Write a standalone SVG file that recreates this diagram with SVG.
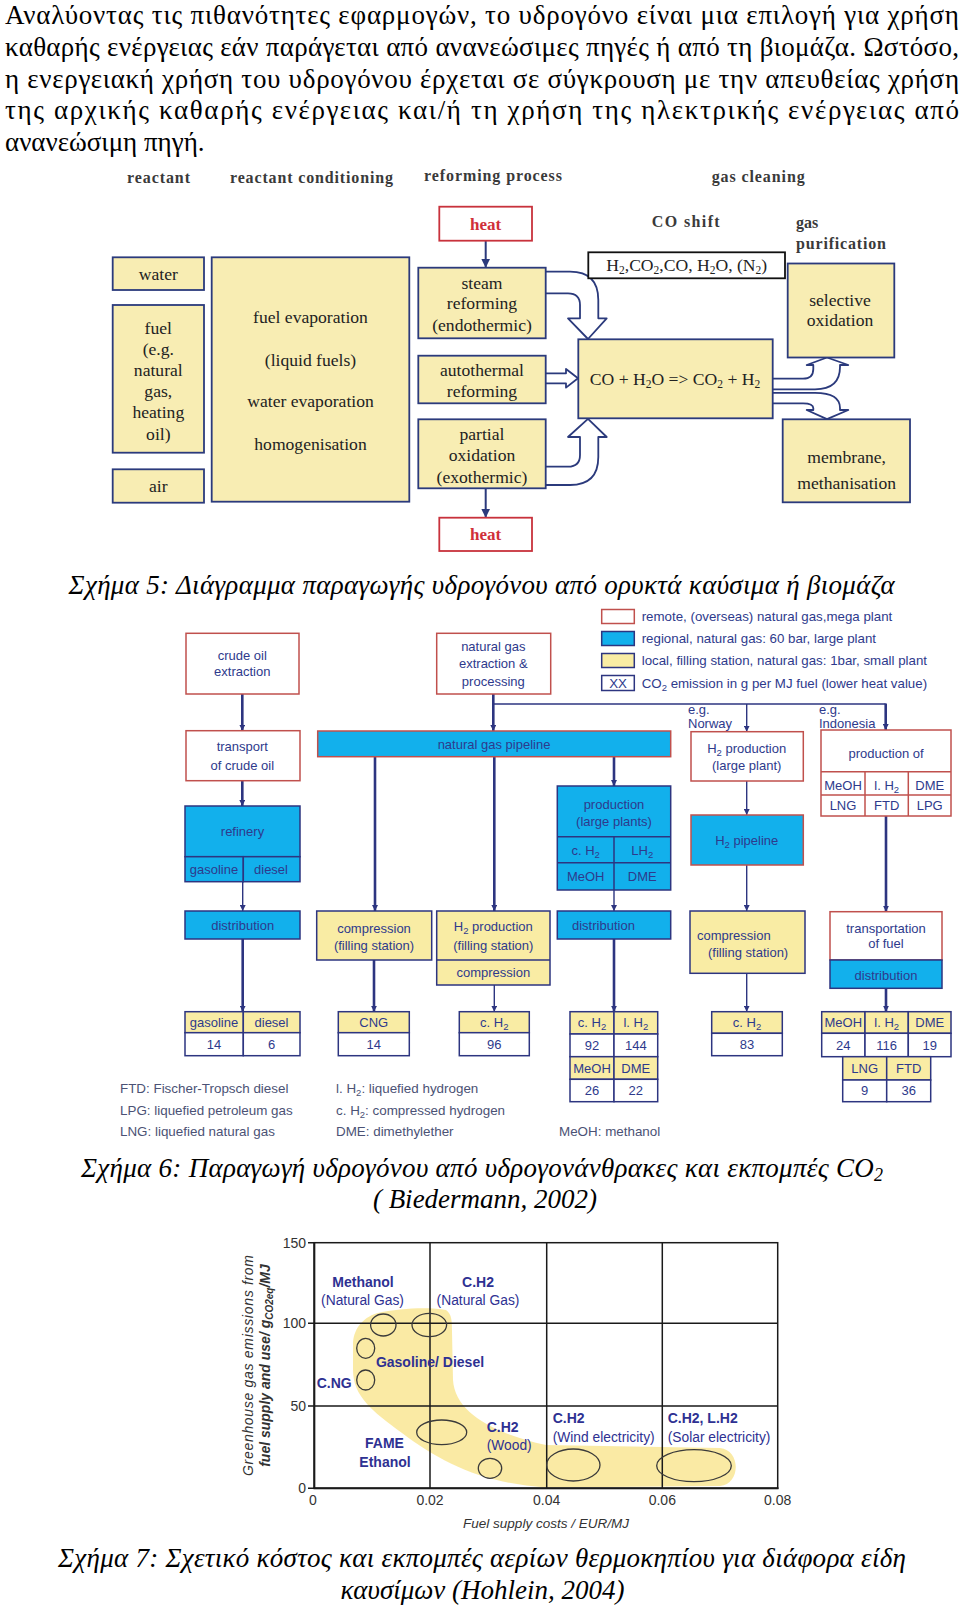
<svg xmlns="http://www.w3.org/2000/svg" width="960" height="1606" viewBox="0 0 960 1606">
<defs>
<style>
.p{font-family:"Liberation Serif","Times New Roman",serif;font-size:27px;fill:#000}
.cap{font-family:"Liberation Serif","Times New Roman",serif;font-style:italic;font-size:27px;fill:#000}
.h5{font-family:"Liberation Serif","Times New Roman",serif;font-weight:bold;font-size:16px;fill:#3a3a3a}
.t5{font-family:"Liberation Serif","Times New Roman",serif;font-size:17.6px;fill:#222;text-anchor:middle}
.b5{fill:#f8edb3;stroke:#2b3a7c;stroke-width:1.8}
.heat{fill:#fff;stroke:#c8323c;stroke-width:1.8}
.ht{font-family:"Liberation Serif","Times New Roman",serif;font-weight:bold;font-size:17px;fill:#d0303a;text-anchor:middle}
.ha{fill:#fff;stroke:#2b3a7c;stroke-width:1.8;stroke-linejoin:round}
.s6{font-family:"Liberation Sans",Arial,sans-serif;font-size:13px;fill:#2e3a8c}
.lg{font-family:"Liberation Sans",Arial,sans-serif;font-size:13.3px;fill:#2e3a8c}
.c{text-anchor:middle}
.fn{font-family:"Liberation Sans",Arial,sans-serif;font-size:13.4px;fill:#4b5275}
.red{fill:#fff;stroke:#c0504d;stroke-width:1.5}
.blue{fill:#12b0ec;stroke:#2d3580;stroke-width:1.5}
.bluer{fill:#12b0ec;stroke:#c0504d;stroke-width:1.5}
.yel{fill:#f9eca4;stroke:#2d3580;stroke-width:1.5}
.wht{fill:#fff;stroke:#2d3580;stroke-width:1.5}
.thk{stroke:#2d3580;stroke-width:2.6;fill:none}
.thn{stroke:#2d3580;stroke-width:1.4;fill:none}
.g7{stroke:#1a1a1a;stroke-width:1.5;fill:none}
.e7{fill:none;stroke:#3a3a3a;stroke-width:1.3}
.l7{font-family:"Liberation Sans",Arial,sans-serif;font-size:13.8px;fill:#2e3192}
.l7b{font-family:"Liberation Sans",Arial,sans-serif;font-size:14px;font-weight:bold;fill:#2e3192}
.tk{font-family:"Liberation Sans",Arial,sans-serif;font-size:14px;fill:#333}
</style>
<marker id="ar" viewBox="0 0 8 8" refX="8" refY="4" markerWidth="6" markerHeight="6" orient="auto" markerUnits="userSpaceOnUse"><path d="M0,0 L8,4 L0,8 z" fill="#2d3580"/></marker>
<marker id="ar5" viewBox="0 0 8 8" refX="8" refY="4" markerWidth="9" markerHeight="9" orient="auto" markerUnits="userSpaceOnUse"><path d="M0,0 L8,4 L0,8 z" fill="#2b3a7c"/></marker>
</defs>
<rect width="960" height="1606" fill="#fff"/>

<!-- paragraph -->
<g id="paragraph">
<text class="p" x="5" y="24" textLength="954" lengthAdjust="spacing">Αναλύοντας τις πιθανότητες εφαρμογών, το υδρογόνο είναι μια επιλογή για χρήση</text>
<text class="p" x="5" y="55.5" textLength="954" lengthAdjust="spacing">καθαρής ενέργειας εάν παράγεται από ανανεώσιμες πηγές ή από τη βιομάζα. Ωστόσο,</text>
<text class="p" x="5" y="88" textLength="954" lengthAdjust="spacing">η ενεργειακή χρήση του υδρογόνου έρχεται σε σύγκρουση με την απευθείας χρήση</text>
<text class="p" x="5" y="119" textLength="954" lengthAdjust="spacing">της αρχικής καθαρής ενέργειας και/ή τη χρήση της ηλεκτρικής ενέργειας από</text>
<text class="p" x="5" y="150.5">ανανεώσιμη πηγή.</text>
</g>

<!-- FIGURE 5 -->
<g id="fig5-headers">
<text class="h5" x="127" y="182.5" textLength="63">reactant</text>
<text class="h5" x="230" y="182.5" textLength="163">reactant conditioning</text>
<text class="h5" x="424" y="181" textLength="138">reforming process</text>
<text class="h5" x="711.7" y="182" textLength="93">gas cleaning</text>
<text class="h5" x="651.7" y="227" textLength="68">CO  shift</text>
<text class="h5" x="796" y="227.5">gas</text>
<text class="h5" x="796" y="249" textLength="90">purification</text>
</g>

<g id="f5-connectors">
<line x1="485.7" y1="240.7" x2="485.7" y2="267.7" stroke="#2b3a7c" stroke-width="2" marker-end="url(#ar5)"/>
<line x1="485.7" y1="488.3" x2="485.7" y2="517.7" stroke="#2b3a7c" stroke-width="2" marker-end="url(#ar5)"/>
<path class="ha" d="M545.7,271.7 L570,271.7 Q598.3,271.7 598.3,300 L598.3,318.3 L606.7,318.3 L588,339 L568,318.3 L580,318.3 L580,305 Q580,293.3 568,293.3 L545.7,293.3"/>
<path class="ha" d="M545.7,373.3 L566,373.3 L566,369 L578,378.3 L566,387.6 L566,383.3 L545.7,383.3"/>
<path class="ha" d="M545.7,485 L570,485 Q598.3,485 598.3,457 L598.3,437 L606.7,437 L588,418.8 L568,437 L580,437 L580,455 Q580,466.7 568,466.7 L545.7,466.7"/>
<path class="ha" d="M772.7,378.7 H803 Q813.3,378.7 813.3,369 V365 H806.7 L827,357.5 L848.3,365 H840 V367 Q840,389.3 815,389.3 H772.7"/>
<path class="ha" d="M772.7,403.3 H803 Q813.3,403.3 813.3,408 V410 H806.7 L827,419.1 L848.3,410 H840 V408 Q840,392.8 815,392.8 H772.7"/>
</g>

<g id="f5-water"><rect class="b5" x="112.7" y="257.3" width="91.3" height="32.7"/><text class="t5" x="158.3" y="279.5">water</text></g>
<g id="f5-fuel"><rect class="b5" x="112.7" y="305" width="91.3" height="147.7"/>
<text class="t5" x="158.3" y="333.5">fuel</text><text class="t5" x="158.3" y="354.5">(e.g.</text><text class="t5" x="158.3" y="375.5">natural</text><text class="t5" x="158.3" y="397">gas,</text><text class="t5" x="158.3" y="417.5">heating</text><text class="t5" x="158.3" y="439.5">oil)</text></g>
<g id="f5-air"><rect class="b5" x="112.7" y="469.3" width="91.3" height="33.4"/><text class="t5" x="158.3" y="491.5">air</text></g>
<g id="f5-conditioning"><rect class="b5" x="211.7" y="257.3" width="197.6" height="244.4"/>
<text class="t5" x="310.5" y="322.5">fuel evaporation</text><text class="t5" x="310.5" y="366">(liquid fuels)</text><text class="t5" x="310.5" y="407">water evaporation</text><text class="t5" x="310.5" y="449.5">homogenisation</text></g>
<g id="f5-heat-top"><rect class="heat" x="439.3" y="206.7" width="92.7" height="34"/><text class="ht" x="485.7" y="229.5">heat</text></g>
<g id="f5-steam"><rect class="b5" x="418.3" y="267.7" width="127.4" height="70.6"/>
<text class="t5" x="482" y="288.5">steam</text><text class="t5" x="482" y="309">reforming</text><text class="t5" x="482" y="331">(endothermic)</text></g>
<g id="f5-auto"><rect class="b5" x="418.3" y="355.7" width="127.4" height="47.6"/>
<text class="t5" x="482" y="376">autothermal</text><text class="t5" x="482" y="396.5">reforming</text></g>
<g id="f5-partial"><rect class="b5" x="418.3" y="419.3" width="127.4" height="69"/>
<text class="t5" x="482" y="440">partial</text><text class="t5" x="482" y="460.5">oxidation</text><text class="t5" x="482" y="483">(exothermic)</text></g>
<g id="f5-heat-bottom"><rect class="heat" x="439.3" y="517.7" width="92.7" height="33.3"/><text class="ht" x="485.7" y="540">heat</text></g>
<g id="f5-gases"><rect x="588.3" y="252.3" width="196.7" height="26" fill="#fff" stroke="#111" stroke-width="1.8"/>
<text class="t5" x="686.7" y="271">H<tspan font-size="11.5" dy="3">2</tspan><tspan dy="-3">,CO</tspan><tspan font-size="11.5" dy="3">2</tspan><tspan dy="-3">,CO, H</tspan><tspan font-size="11.5" dy="3">2</tspan><tspan dy="-3">O, (N</tspan><tspan font-size="11.5" dy="3">2</tspan><tspan dy="-3">)</tspan></text></g>
<g id="f5-coshift"><rect class="b5" x="578.3" y="339.3" width="194.4" height="79"/>
<text class="t5" x="675" y="384.5">CO + H<tspan font-size="11.5" dy="3">2</tspan><tspan dy="-3">O =&gt; CO</tspan><tspan font-size="11.5" dy="3">2</tspan><tspan dy="-3"> + H</tspan><tspan font-size="11.5" dy="3">2</tspan></text></g>
<g id="f5-selective"><rect class="b5" x="787.7" y="263.5" width="106.6" height="94"/>
<text class="t5" x="840" y="306">selective</text><text class="t5" x="840" y="326">oxidation</text></g>
<g id="f5-membrane"><rect class="b5" x="782.7" y="419.3" width="127.3" height="83"/>
<text class="t5" x="846.7" y="462.5">membrane,</text><text class="t5" x="846.7" y="489">methanisation</text></g>

<text class="cap" x="68.6" y="594" textLength="826" lengthAdjust="spacing">Σχήμα 5: Διάγραμμα παραγωγής υδρογόνου από ορυκτά καύσιμα ή βιομάζα</text>

<!-- FIGURE 6 -->
<g id="f6-legend">
<rect class="red" x="601.7" y="609.5" width="32.6" height="14"/>
<text class="lg" x="641.7" y="621">remote, (overseas) natural gas,mega plant</text>
<rect class="blue" x="601.7" y="631.5" width="32.6" height="14"/>
<text class="lg" x="641.7" y="643">regional, natural gas: 60 bar, large plant</text>
<rect class="yel" x="601.7" y="653.5" width="32.6" height="14"/>
<text class="lg" x="641.7" y="665">local, filling station, natural gas: 1bar, small plant</text>
<rect class="wht" x="601.7" y="675.5" width="32.6" height="15"/>
<text class="lg c" x="618" y="687.5">XX</text>
<text class="lg" x="641.7" y="687.5">CO<tspan font-size="9.5" dy="3">2</tspan><tspan dy="-3"> emission in g per MJ fuel (lower heat value)</tspan></text>
</g>

<g id="f6-connectors">
<line class="thk" x1="242.3" y1="694" x2="242.3" y2="730.7" marker-end="url(#ar)"/>
<line class="thk" x1="242.3" y1="780.7" x2="242.3" y2="806" marker-end="url(#ar)"/>
<line class="thn" x1="242.7" y1="881.7" x2="242.7" y2="911" marker-end="url(#ar)"/>
<line class="thk" x1="242.7" y1="939" x2="242.7" y2="1011.7" marker-end="url(#ar)"/>
<line class="thk" x1="493.3" y1="694" x2="493.3" y2="731" marker-end="url(#ar)"/>
<path class="thn" d="M493.3,704 H885.7"/>
<line class="thn" x1="746.7" y1="704" x2="746.7" y2="731.7" marker-end="url(#ar)"/>
<line class="thk" x1="885.7" y1="703.5" x2="885.7" y2="730" marker-end="url(#ar)"/>
<line class="thk" x1="375" y1="756.7" x2="375" y2="911" marker-end="url(#ar)"/>
<line class="thk" x1="494.3" y1="756.7" x2="494.3" y2="911" marker-end="url(#ar)"/>
<line class="thk" x1="614" y1="756.7" x2="614" y2="786" marker-end="url(#ar)"/>
<line class="thk" x1="374" y1="960" x2="374" y2="1011.7" marker-end="url(#ar)"/>
<line class="thn" x1="494.3" y1="985" x2="494.3" y2="1011.7" marker-end="url(#ar)"/>
<line class="thn" x1="614" y1="890" x2="614" y2="911" marker-end="url(#ar)"/>
<line class="thk" x1="614" y1="939" x2="614" y2="1011.7" marker-end="url(#ar)"/>
<line class="thn" x1="746.7" y1="781" x2="746.7" y2="815" marker-end="url(#ar)"/>
<line class="thn" x1="746.7" y1="865" x2="746.7" y2="911" marker-end="url(#ar)"/>
<line class="thn" x1="746.7" y1="973.3" x2="746.7" y2="1011.7" marker-end="url(#ar)"/>
<line class="thk" x1="886" y1="816" x2="886" y2="911.7" marker-end="url(#ar)"/>
<line class="thk" x1="886" y1="988.3" x2="886" y2="1011.7" marker-end="url(#ar)"/>
</g>

<g id="f6-crude"><rect class="red" x="186" y="633.3" width="113" height="60.7"/>
<text class="s6 c" x="242.3" y="659.5">crude oil</text><text class="s6 c" x="242.3" y="676">extraction</text></g>
<g id="f6-transport"><rect class="red" x="186" y="730.7" width="114" height="50"/>
<text class="s6 c" x="242.3" y="751">transport</text><text class="s6 c" x="242.3" y="769.5">of crude oil</text></g>
<g id="f6-refinery"><rect class="blue" x="185" y="806" width="115" height="50.7"/><rect class="blue" x="185" y="856.7" width="58.3" height="25"/><rect class="blue" x="243.3" y="856.7" width="56.7" height="25"/>
<text class="s6 c" x="242.5" y="836">refinery</text><text class="s6 c" x="214" y="873.5">gasoline</text><text class="s6 c" x="271" y="873.5">diesel</text></g>
<g id="f6-ng-extraction"><rect class="red" x="436.7" y="633.3" width="114" height="60.7"/>
<text class="s6 c" x="493.3" y="651">natural gas</text><text class="s6 c" x="493.3" y="668">extraction &amp;</text><text class="s6 c" x="493.3" y="686">processing</text></g>
<g id="f6-pipeline"><rect class="bluer" x="317.7" y="731" width="353" height="25.7"/>
<text class="s6 c" x="494" y="748.5">natural gas pipeline</text></g>
<g id="f6-eg"><text class="s6" x="688" y="714">e.g.</text><text class="s6" x="688" y="727.5">Norway</text>
<text class="s6" x="819" y="714">e.g.</text><text class="s6" x="819" y="727.5">Indonesia</text></g>
<g id="f6-h2-large"><rect class="red" x="691" y="731.7" width="112.3" height="49.3"/>
<text class="s6 c" x="746.7" y="753">H<tspan font-size="9.5" dy="3">2</tspan><tspan dy="-3"> production</tspan></text><text class="s6 c" x="746.7" y="769.5">(large plant)</text></g>
<g id="f6-h2-pipeline"><rect class="bluer" x="691" y="815" width="112.3" height="50"/>
<text class="s6 c" x="746.7" y="844.5">H<tspan font-size="9.5" dy="3">2</tspan><tspan dy="-3"> pipeline</tspan></text></g>
<g id="f6-production-of"><rect class="red" x="821" y="730" width="130" height="86"/>
<line x1="821" y1="771.7" x2="951" y2="771.7" stroke="#c0504d" stroke-width="1.5"/><line x1="821" y1="795" x2="951" y2="795" stroke="#c0504d" stroke-width="1.5"/>
<line x1="865" y1="771.7" x2="865" y2="816" stroke="#c0504d" stroke-width="1.5"/><line x1="908.3" y1="771.7" x2="908.3" y2="816" stroke="#c0504d" stroke-width="1.5"/>
<text class="s6 c" x="886" y="758">production of</text>
<text class="s6 c" x="843" y="789.5">MeOH</text><text class="s6 c" x="886.7" y="789.5">l. H<tspan font-size="9.5" dy="3">2</tspan></text><text class="s6 c" x="929.7" y="789.5">DME</text>
<text class="s6 c" x="843" y="809.5">LNG</text><text class="s6 c" x="886.7" y="809.5">FTD</text><text class="s6 c" x="929.7" y="809.5">LPG</text></g>
<g id="f6-production-large"><rect class="blue" x="557.3" y="786" width="113.4" height="104"/>
<line x1="557.3" y1="836.7" x2="670.7" y2="836.7" stroke="#2d3580" stroke-width="1.5"/><line x1="557.3" y1="862.7" x2="670.7" y2="862.7" stroke="#2d3580" stroke-width="1.5"/><line x1="614" y1="836.7" x2="614" y2="890" stroke="#2d3580" stroke-width="1.5"/>
<text class="s6 c" x="614" y="809">production</text><text class="s6 c" x="614" y="826">(large plants)</text>
<text class="s6 c" x="585.7" y="855">c. H<tspan font-size="9.5" dy="3">2</tspan></text><text class="s6 c" x="642.3" y="855">LH<tspan font-size="9.5" dy="3">2</tspan></text>
<text class="s6 c" x="585.7" y="881">MeOH</text><text class="s6 c" x="642.3" y="881">DME</text></g>
<g id="f6-distribution-1"><rect class="blue" x="185" y="911" width="115" height="28"/><text class="s6 c" x="242.7" y="929.5">distribution</text></g>
<g id="f6-compression-cng"><rect class="yel" x="316.7" y="911" width="115" height="49"/>
<text class="s6 c" x="374" y="933">compression</text><text class="s6 c" x="374" y="949.5">(filling station)</text></g>
<g id="f6-h2-filling"><rect class="yel" x="436.7" y="911" width="113.3" height="74"/><line x1="436.7" y1="960" x2="550" y2="960" stroke="#2d3580" stroke-width="1.5"/>
<text class="s6 c" x="493.3" y="930.5">H<tspan font-size="9.5" dy="3">2</tspan><tspan dy="-3"> production</tspan></text><text class="s6 c" x="493.3" y="949.5">(filling station)</text><text class="s6 c" x="493.3" y="977">compression</text></g>
<g id="f6-distribution-2"><rect class="blue" x="557.3" y="911" width="113.4" height="28"/><text class="s6" x="572" y="929.5">distribution</text></g>
<g id="f6-compression-h2"><rect class="yel" x="690" y="911" width="115" height="62.3"/>
<text class="s6" x="697" y="939.5">compression</text><text class="s6" x="708" y="957">(filling station)</text></g>
<g id="f6-transportation"><rect class="red" x="830" y="911.7" width="112" height="48.3"/><rect class="blue" x="830" y="960" width="112" height="28.3"/>
<text class="s6 c" x="886" y="933">transportation</text><text class="s6 c" x="886" y="948">of fuel</text><text class="s6 c" x="886" y="979.5">distribution</text></g>

<g id="f6-table-oil">
<rect class="yel" x="185" y="1011.7" width="58.3" height="21"/><rect class="yel" x="243.3" y="1011.7" width="56.7" height="21"/>
<rect class="wht" x="185" y="1032.7" width="58.3" height="23"/><rect class="wht" x="243.3" y="1032.7" width="56.7" height="23"/>
<text class="s6 c" x="214" y="1026.5">gasoline</text><text class="s6 c" x="271.5" y="1026.5">diesel</text>
<text class="s6 c" x="214" y="1049">14</text><text class="s6 c" x="271.5" y="1049">6</text></g>
<g id="f6-table-cng">
<rect class="yel" x="338.3" y="1011.7" width="71" height="21"/><rect class="wht" x="338.3" y="1032.7" width="71" height="23"/>
<text class="s6 c" x="373.8" y="1026.5">CNG</text><text class="s6 c" x="373.8" y="1049">14</text></g>
<g id="f6-table-ch2-96">
<rect class="yel" x="459.3" y="1011.7" width="70" height="21"/><rect class="wht" x="459.3" y="1032.7" width="70" height="23"/>
<text class="s6 c" x="494.3" y="1026.5">c. H<tspan font-size="9.5" dy="3">2</tspan></text><text class="s6 c" x="494.3" y="1049">96</text></g>
<g id="f6-table-mid">
<rect class="yel" x="570" y="1011.7" width="44" height="22.3"/><rect class="yel" x="614" y="1011.7" width="43.7" height="22.3"/>
<rect class="wht" x="570" y="1034" width="44" height="22.7"/><rect class="wht" x="614" y="1034" width="43.7" height="22.7"/>
<rect class="yel" x="570" y="1056.7" width="44" height="22.6"/><rect class="yel" x="614" y="1056.7" width="43.7" height="22.6"/>
<rect class="wht" x="570" y="1079.3" width="44" height="22.4"/><rect class="wht" x="614" y="1079.3" width="43.7" height="22.4"/>
<text class="s6 c" x="592" y="1027">c. H<tspan font-size="9.5" dy="3">2</tspan></text><text class="s6 c" x="635.8" y="1027">l. H<tspan font-size="9.5" dy="3">2</tspan></text>
<text class="s6 c" x="592" y="1049.5">92</text><text class="s6 c" x="635.8" y="1049.5">144</text>
<text class="s6 c" x="592" y="1072.5">MeOH</text><text class="s6 c" x="635.8" y="1072.5">DME</text>
<text class="s6 c" x="592" y="1095">26</text><text class="s6 c" x="635.8" y="1095">22</text></g>
<g id="f6-table-ch2-83">
<rect class="yel" x="711.7" y="1011.7" width="70.6" height="21.6"/><rect class="wht" x="711.7" y="1033.3" width="70.6" height="22.4"/>
<text class="s6 c" x="747" y="1026.5">c. H<tspan font-size="9.5" dy="3">2</tspan></text><text class="s6 c" x="747" y="1049">83</text></g>
<g id="f6-table-right">
<rect class="yel" x="821.7" y="1011.7" width="43.3" height="21.6"/><rect class="yel" x="865" y="1011.7" width="43.3" height="21.6"/><rect class="yel" x="908.3" y="1011.7" width="42.7" height="21.6"/>
<rect class="wht" x="821.7" y="1033.3" width="43.3" height="23.4"/><rect class="wht" x="865" y="1033.3" width="43.3" height="23.4"/><rect class="wht" x="908.3" y="1033.3" width="42.7" height="23.4"/>
<rect class="yel" x="842.7" y="1056.7" width="44" height="23.3"/><rect class="yel" x="886.7" y="1056.7" width="44" height="23.3"/>
<rect class="wht" x="842.7" y="1080" width="44" height="21.7"/><rect class="wht" x="886.7" y="1080" width="44" height="21.7"/>
<text class="s6 c" x="843.3" y="1026.5">MeOH</text><text class="s6 c" x="886.7" y="1026.5">l. H<tspan font-size="9.5" dy="3">2</tspan></text><text class="s6 c" x="929.7" y="1026.5">DME</text>
<text class="s6 c" x="843.3" y="1049.5">24</text><text class="s6 c" x="886.7" y="1049.5">116</text><text class="s6 c" x="929.7" y="1049.5">19</text>
<text class="s6 c" x="864.7" y="1073">LNG</text><text class="s6 c" x="908.7" y="1073">FTD</text>
<text class="s6 c" x="864.7" y="1095">9</text><text class="s6 c" x="908.7" y="1095">36</text></g>

<g id="f6-footnotes">
<text class="fn" x="120" y="1093">FTD: Fischer-Tropsch diesel</text>
<text class="fn" x="120" y="1114.5">LPG: liquefied petroleum gas</text>
<text class="fn" x="120" y="1136">LNG: liquefied natural gas</text>
<text class="fn" x="336" y="1093">l. H<tspan font-size="9.5" dy="3">2</tspan><tspan dy="-3">: liquefied hydrogen</tspan></text>
<text class="fn" x="336" y="1114.5">c. H<tspan font-size="9.5" dy="3">2</tspan><tspan dy="-3">: compressed hydrogen</tspan></text>
<text class="fn" x="336" y="1136">DME: dimethylether</text>
<text class="fn" x="559" y="1136">MeOH: methanol</text>
</g>

<text class="cap" x="81" y="1177" textLength="802" lengthAdjust="spacing">Σχήμα 6: Παραγωγή υδρογόνου από υδρογονάνθρακες και εκπομπές CO<tspan font-size="18" dy="4">2</tspan></text>
<text class="cap" x="485" y="1207.5" text-anchor="middle">( Biedermann, 2002)</text>

<!-- FIGURE 7 -->
<g id="f7-chart">
<path d="M376.7,1313.3 C400,1308 430,1307 446,1310 C452,1314 452,1322 452,1332 L453,1380 C455,1412 492,1433 546,1445 L720,1448 C741,1450 741,1484 720,1486 L546,1487.5 C482,1483 442,1463 402,1433 C372,1411 353,1396 353,1370 L353,1345 C353,1330 362,1318 376.7,1313.3 Z" fill="#fae89c" opacity="0.92"/>
<rect class="g7" x="314.3" y="1242.7" width="463.4" height="245.6"/>
<path class="g7" d="M308,1242.7 H314.3 M308,1323.3 H777.7 M308,1406 H777.7 M308,1488.3 H314.3 M430,1242.7 V1488.3 M546.7,1242.7 V1488.3 M662.3,1242.7 V1488.3"/>
<line x1="314.3" y1="1242" x2="314.3" y2="1489" stroke="#1a1a1a" stroke-width="2"/>
<line x1="313.5" y1="1488.3" x2="778.5" y2="1488.3" stroke="#1a1a1a" stroke-width="2"/>
<ellipse class="e7" cx="383.3" cy="1325" rx="12.7" ry="11"/>
<ellipse class="e7" cx="429.3" cy="1325" rx="17.3" ry="11.7"/>
<ellipse class="e7" cx="365.7" cy="1348.3" rx="9" ry="10"/>
<ellipse class="e7" cx="365.7" cy="1380" rx="9" ry="10"/>
<ellipse class="e7" cx="441.7" cy="1432.3" rx="25" ry="12.3"/>
<ellipse class="e7" cx="490" cy="1468.3" rx="11.7" ry="10"/>
<ellipse class="e7" cx="573.3" cy="1465" rx="26.7" ry="16"/>
<ellipse class="e7" cx="694" cy="1465.7" rx="37.3" ry="16"/>
</g>
<g id="f7-labels">
<text class="l7b" x="363" y="1286.5" text-anchor="middle">Methanol</text>
<text class="l7" x="362.5" y="1305" text-anchor="middle">(Natural Gas)</text>
<text class="l7b" x="478" y="1286.5" text-anchor="middle">C.H2</text>
<text class="l7" x="478" y="1305" text-anchor="middle">(Natural Gas)</text>
<text class="l7b" x="430" y="1366.5" text-anchor="middle">Gasoline/ Diesel</text>
<text class="l7b" x="334.2" y="1388" text-anchor="middle">C.NG</text>
<text class="l7b" x="384.5" y="1447.5" text-anchor="middle">FAME</text>
<text class="l7b" x="385" y="1466.5" text-anchor="middle">Ethanol</text>
<text class="l7b" x="486.7" y="1431.5">C.H2</text>
<text class="l7" x="486.7" y="1450">(Wood)</text>
<text class="l7b" x="552.7" y="1423">C.H2</text>
<text class="l7" x="552.7" y="1441.5">(Wind electricity)</text>
<text class="l7b" x="667.7" y="1423">C.H2, L.H2</text>
<text class="l7" x="667.7" y="1441.5">(Solar electricity)</text>
</g>
<g id="f7-axes">
<text class="tk" x="306" y="1247.5" text-anchor="end">150</text>
<text class="tk" x="306" y="1328" text-anchor="end">100</text>
<text class="tk" x="306" y="1411" text-anchor="end">50</text>
<text class="tk" x="306" y="1493" text-anchor="end">0</text>
<text class="tk" x="313" y="1505" text-anchor="middle">0</text>
<text class="tk" x="430" y="1505" text-anchor="middle">0.02</text>
<text class="tk" x="546.7" y="1505" text-anchor="middle">0.04</text>
<text class="tk" x="662.3" y="1505" text-anchor="middle">0.06</text>
<text class="tk" x="777.7" y="1505" text-anchor="middle">0.08</text>
<text font-family="Liberation Sans,Arial,sans-serif" font-size="13.5" font-style="italic" fill="#333" x="546" y="1528" text-anchor="middle">Fuel supply costs / EUR/MJ</text>
<text font-family="Liberation Sans,Arial,sans-serif" font-size="14" font-style="italic" fill="#333" transform="translate(253,1365.5) rotate(-90)" text-anchor="middle" textLength="221">Greenhouse gas emissions from</text>
<text font-family="Liberation Sans,Arial,sans-serif" font-size="14" font-style="italic" font-weight="bold" fill="#333" transform="translate(270,1365.5) rotate(-90)" text-anchor="middle">fuel supply and use/ g<tspan font-size="10" dy="3">CO2eq</tspan><tspan dy="-3">/MJ</tspan></text>
</g>

<text class="cap" x="58" y="1567" textLength="848" lengthAdjust="spacing">Σχήμα 7: Σχετικό κόστος και εκπομπές αερίων θερμοκηπίου για διάφορα είδη</text>
<text class="cap" x="482.5" y="1598.5" text-anchor="middle">καυσίμων (Hohlein, 2004)</text>
</svg>
